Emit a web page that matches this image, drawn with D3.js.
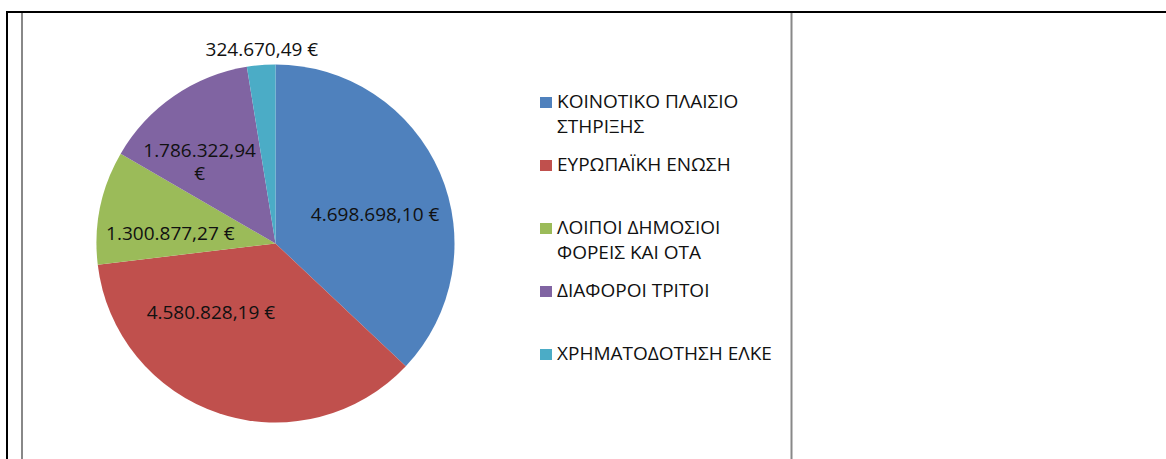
<!DOCTYPE html>
<html>
<head>
<meta charset="utf-8">
<script src="https://cdn.jsdelivr.net/npm/d3@7"></script>
<style>
  body { margin: 0; background: #fff; }
  svg { display: block; font-family: "Open Sans", "DejaVu Sans", sans-serif; }
</style>
</head>
<body>
<script>
// categories and values (euro)
const categories = [
    ["ΚΟΙΝΟΤΙΚΟ ΠΛΑΙΣΙΟ", "ΣΤΗΡΙΞΗΣ"],
    ["ΕΥΡΩΠΑΪΚΗ ΕΝΩΣΗ"],
    ["ΛΟΙΠΟΙ ΔΗΜΟΣΙΟΙ", "ΦΟΡΕΙΣ ΚΑΙ ΟΤΑ"],
    ["ΔΙΑΦΟΡΟΙ ΤΡΙΤΟΙ"],
    ["ΧΡΗΜΑΤΟΔΟΤΗΣΗ ΕΛΚΕ"]
];
const values = [4698698.10, 4580828.19, 1300877.27, 1786322.94, 324670.49];
const valueLabels = [
    ["4.698.698,10 €"],
    ["4.580.828,19 €"],
    ["1.300.877,27 €"],
    ["1.786.322,94", "€"],
    ["324.670,49 €"]
];
const colors = ["#4F81BD", "#C0504D", "#9BBB59", "#8064A2", "#4BACC6"];

var config = {
    width: 1166,
    height: 459,
    cx: 275.5,
    cy: 243.5,
    r: 179,
    fontSize: 19,
    legend: {x: 540, y: 108, step: 63, lineHeight: 25}
};

// label nudges (excel "best fit" moves them off the centroid)
const nudge = [[1, 13], [-31, -33], [0, 12], [-15, 7], [2, 0]];

const svg = d3.select("body").append("svg")
    .attr("width", config.width)
    .attr("height", config.height);

// frame lines of the table cell
svg.append("line").attr("x1", 6).attr("x2", config.width).attr("y1", 12).attr("y2", 12)
    .attr("stroke", "#000").attr("stroke-width", 2);
svg.append("line").attr("x1", 7).attr("x2", 7).attr("y1", 11).attr("y2", config.height)
    .attr("stroke", "#000").attr("stroke-width", 2);
svg.append("line").attr("x1", 22).attr("x2", 22).attr("y1", 13).attr("y2", config.height)
    .attr("stroke", "#888").attr("stroke-width", 2);
svg.append("line").attr("x1", 791.5).attr("x2", 791.5).attr("y1", 13).attr("y2", config.height)
    .attr("stroke", "#888").attr("stroke-width", 2);

const pie = d3.pie().sort(null).value(d => d)
    .startAngle(0).endAngle(2 * Math.PI);
const arcs = pie(values);

const arc = d3.arc().innerRadius(0).outerRadius(config.r);
const labelArc = d3.arc().innerRadius(config.r * 0.6).outerRadius(config.r * 0.6);
const outerArc = d3.arc().innerRadius(config.r + 16).outerRadius(config.r + 16);

const chart = svg.append("g")
    .attr("transform", `translate(${config.cx},${config.cy})`);

chart.selectAll("path")
    .data(arcs)
    .enter()
    .append("path")
    .attr("d", arc)
    .attr("fill", (d, i) => colors[i]);

// data labels
chart.selectAll("text.lbl")
    .data(arcs)
    .enter()
    .append("text")
    .attr("class", "lbl")
    .attr("font-size", config.fontSize)
    .attr("fill", "#111")
    .attr("text-anchor", "middle")
    .each(function (d, i) {
        // small slice -> label outside
        const small = (d.endAngle - d.startAngle) < 0.3;
        const c = small ? outerArc.centroid(d) : labelArc.centroid(d);
        const x = c[0] + nudge[i][0];
        const lines = valueLabels[i];
        const y0 = c[1] + nudge[i][1] - (lines.length - 1) * 23 / 2;
        d3.select(this).selectAll("tspan")
            .data(lines)
            .enter()
            .append("tspan")
            .attr("x", x)
            .attr("y", (t, j) => y0 + j * 23)
            .attr("dy", "0.35em")
            .text(t => t);
    });

// legend
const legend = svg.append("g");
const items = legend.selectAll("g")
    .data(categories)
    .enter()
    .append("g")
    .attr("transform", (d, i) => `translate(${config.legend.x},${config.legend.y + i * config.legend.step})`);

items.append("rect")
    .attr("x", 0).attr("y", -11)
    .attr("width", 12).attr("height", 11)
    .attr("fill", (d, i) => colors[i]);

items.append("text")
    .attr("font-size", config.fontSize)
    .attr("fill", "#111")
    .selectAll("tspan")
    .data(d => d)
    .enter()
    .append("tspan")
    .attr("x", 17)
    .attr("y", (t, j) => j * config.legend.lineHeight)
    .text(t => t);
</script>
</body>
</html>
